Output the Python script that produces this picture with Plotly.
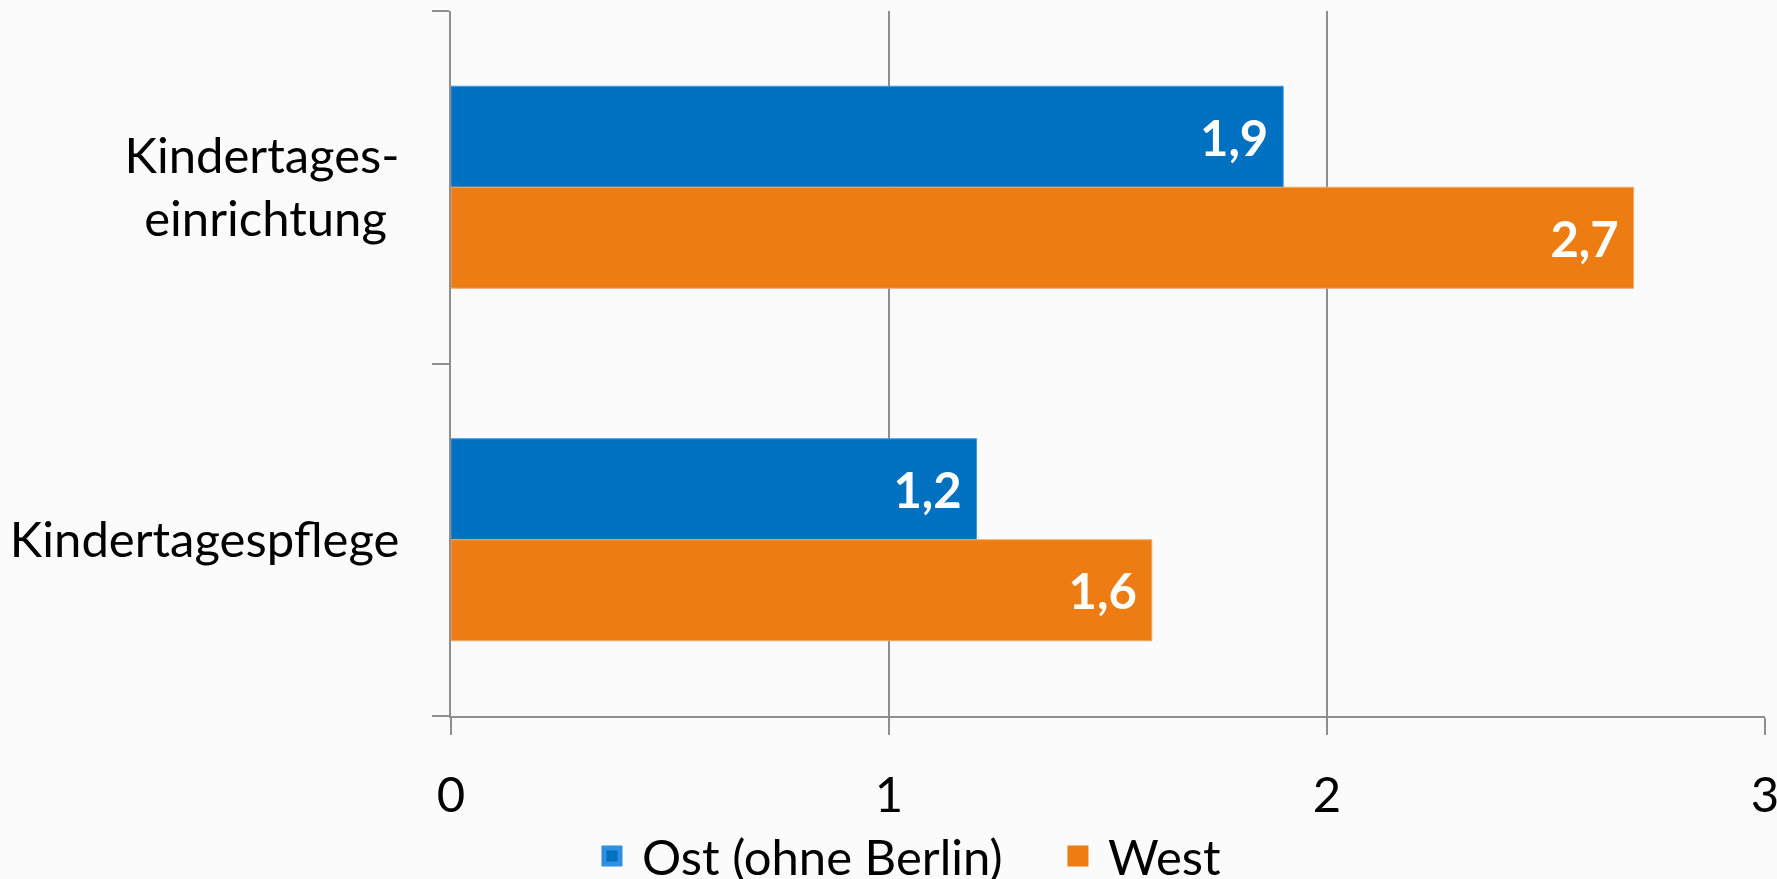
import plotly.graph_objects as go

# Data
categories = ["Kindertageseinrichtung", "Kindertagespflege"]
tick_labels = ["Kindertages-<br>einrichtung\u00a0", "Kindertagespflege"]
series_names = ["Ost (ohne Berlin)", "West"]
ost_values = [1.9, 1.2]
west_values = [2.7, 1.6]
x_ticks = [0, 1, 2, 3]

BLUE = "#0070C0"
ORANGE = "#ED7D12"
GRID = "#8E8E8E"
FONT = "Lato"
FS = 49

fig = go.Figure()
for name, vals, col, edge in [
    (series_names[0], ost_values, BLUE, "#3C9BEA"),
    (series_names[1], west_values, ORANGE, "#F4A864"),
]:
    fig.add_trace(go.Bar(
        y=categories, x=vals, name=name, orientation="h",
        marker=dict(color=col, line=dict(color=edge, width=1)),
        texttemplate="%{x:.1f}\u00a0", textposition="inside",
        insidetextanchor="end",
        textfont=dict(family=FONT, size=FS, color="white", weight="bold"),
        cliponaxis=False, showlegend=False, legendgroup=name,
    ))

# legend entries (larger square swatches)
legend_widths = [401, None]
for name, col, edge, lw in [(series_names[0], BLUE, "#2F8FE0", legend_widths[0]),
                            (series_names[1], ORANGE, ORANGE, legend_widths[1])]:
    fig.add_trace(go.Scatter(
        x=[None], y=[None], mode="markers", name=name, legendgroup=name,
        marker=dict(symbol="square", size=16, color=col,
                    line=dict(color=edge, width=5)),
        showlegend=True, hoverinfo="skip", legendwidth=lw,
    ))

fig.update_layout(
    template="none",
    width=1777, height=879,
    barmode="group", bargap=0.427, bargroupgap=0,
    separators=",.",
    paper_bgcolor="#FBFBFB", plot_bgcolor="#FBFBFB",
    margin=dict(l=451, r=12, t=11, b=163, autoexpand=False),
    font=dict(family=FONT, size=FS, color="black"),
    showlegend=True,
    legend=dict(
        orientation="h", xref="container", yref="container",
        x=0.3275, xanchor="left", y=0.026, yanchor="middle",
        font=dict(family=FONT, size=FS, color="black"),
        bgcolor="rgba(0,0,0,0)", itemwidth=50, tracegroupgap=0,
    ),
)

fig.update_xaxes(
    range=[0, 3], tickvals=x_ticks, ticktext=[str(v) for v in x_ticks],
    showgrid=True, gridcolor=GRID, gridwidth=1.5,
    showline=True, linecolor=GRID, linewidth=1.5,
    ticks="outside", ticklen=17, tickcolor=GRID, tickwidth=1.5,
    zeroline=False, ticklabelstandoff=18, ticklabeloverflow="allow",
    automargin=False,
    tickfont=dict(family=FONT, size=FS, color="black"),
)
fig.update_yaxes(
    type="category", categoryorder="array", categoryarray=categories,
    autorange="reversed",
    tickvals=categories, ticktext=tick_labels,
    tickson="boundaries",
    showgrid=False,
    showline=True, linecolor=GRID, linewidth=1.5,
    ticks="outside", ticklen=17, tickcolor=GRID, tickwidth=1.5,
    zeroline=False, ticklabelstandoff=40, automargin=False,
    tickfont=dict(family=FONT, size=FS, color="black"),
)

fig.write_html("out.html", config={"displayModeBar": False},
               post_script="document.body.style.margin='0px';")
